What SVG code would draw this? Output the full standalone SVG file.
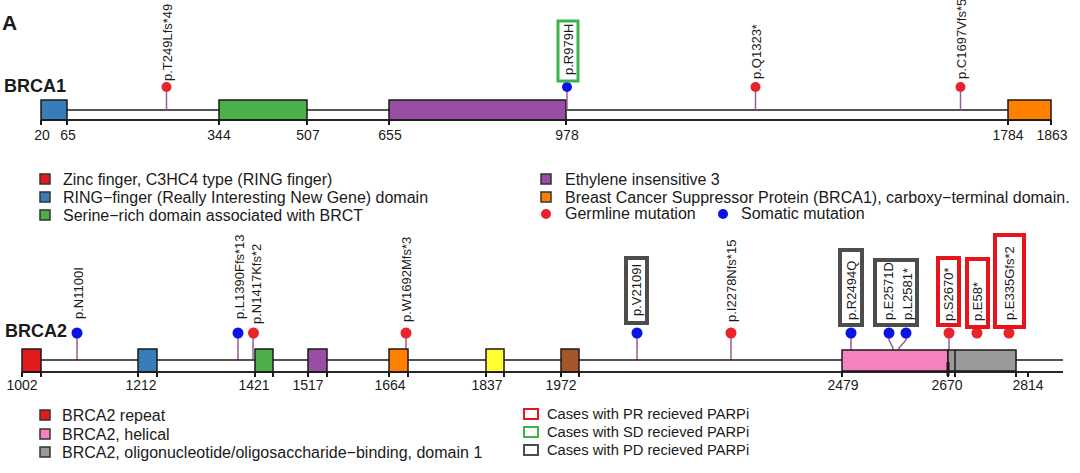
<svg xmlns="http://www.w3.org/2000/svg" width="1080" height="473" viewBox="0 0 1080 473">
<style>
text{font-family:"Liberation Sans",Arial,sans-serif;fill:#1a1a1a}
.title{font-weight:bold;font-size:18px}
.panel{font-weight:bold;font-size:21px}
.tick{font-size:14px;text-anchor:middle}
.mut{font-size:13px}
.leg{font-size:16px}
.leg2{font-size:14.7px}
.bb{stroke:#1a1a1a;stroke-width:1.5;fill:none}
.dom{stroke:#1a1a1a;stroke-width:1.5}
.tk{stroke:#1a1a1a;stroke-width:2}
.stem{stroke:#9b5c9b;stroke-width:1.5;fill:none}
.g{fill:#ea2229}
.s{fill:#0a14e6}
.pr{fill:none;stroke:#e8141c;stroke-width:4}
.sd{fill:none;stroke:#3cb44b;stroke-width:3}
.pd{fill:none;stroke:#4d4d4d;stroke-width:4}
.ls{stroke:#333;stroke-width:1.5}
</style>
<rect width="1080" height="473" fill="#fff"/>
<text class="panel" x="2" y="30">A</text>

<!-- BRCA1 -->
<g id="brca1">
<text class="title" x="4" y="92">BRCA1</text>
<line class="bb" x1="41" y1="110" x2="1051" y2="110"/>
<line class="bb" x1="41" y1="120" x2="1051" y2="120"/>
<g id="b1-domains">
<rect class="dom" x="41" y="100" width="26" height="20" fill="#377eb8"/>
<rect class="dom" x="219" y="100" width="88" height="20" fill="#4daf4a"/>
<rect class="dom" x="389" y="100" width="177" height="20" fill="#984ea3"/>
<rect class="dom" x="1008" y="100" width="43" height="20" fill="#ff7f00"/>
<line class="bb" x1="41" y1="120" x2="1051" y2="120" stroke-width="2.5"/>
</g>
<g id="b1-ticks">
<path class="tk" d="M41,120v5M67,120v5M219,120v5M307,120v5M389,120v5M566,120v5M1008,120v5M1051,120v5"/>
<text class="tick" x="42" y="140">20</text>
<text class="tick" x="68" y="140">65</text>
<text class="tick" x="219" y="140">344</text>
<text class="tick" x="308" y="140">507</text>
<text class="tick" x="390" y="140">655</text>
<text class="tick" x="567" y="140">978</text>
<text class="tick" x="1008" y="140">1784</text>
<text class="tick" x="1052" y="140">1863</text>
</g>
</g>

<g id="connectors">
<path class="stem" d="M166.5,87V110M567,87V110M755.5,87V110M960.5,87V110"/>
<path class="stem" d="M77,333V360M238,333V360M253,333V359M406,333V359M637,333V360M731,333V360M851,333V360M889,333V340L893,348V360M906,333V340L899,348V360M949,333V360"/>
</g>

<g id="b1-mutations">
<circle class="g" cx="166.5" cy="87" r="5"/>
<text class="mut" transform="translate(172,81) rotate(-90)">p.T249Lfs*49</text>
<circle class="s" cx="567" cy="87" r="5"/>
<rect class="sd" x="558" y="21" width="20" height="60"/>
<text class="mut" transform="translate(572.5,75) rotate(-90)">p.R979H</text>
<circle class="g" cx="755.5" cy="87" r="5"/>
<text class="mut" transform="translate(761,79) rotate(-90)">p.Q1323*</text>
<circle class="g" cx="960.5" cy="87" r="5"/>
<text class="mut" transform="translate(966,79) rotate(-90)">p.C1697Vfs*5</text>
</g>

<g id="b1-legend">
<rect class="ls" x="40" y="174" width="10" height="10" fill="#e41a1c"/>
<text class="leg" x="63" y="185">Zinc finger, C3HC4 type (RING finger)</text>
<rect class="ls" x="40" y="192" width="10" height="10" fill="#377eb8"/>
<text class="leg" x="63" y="203">RING−finger (Really Interesting New Gene) domain</text>
<rect class="ls" x="40" y="210" width="10" height="10" fill="#4daf4a"/>
<text class="leg" x="63" y="221">Serine−rich domain associated with BRCT</text>
<rect class="ls" x="541" y="174" width="10" height="10" fill="#984ea3"/>
<text class="leg" x="565" y="185">Ethylene insensitive 3</text>
<rect class="ls" x="541" y="192" width="10" height="10" fill="#ff7f00"/>
<text class="leg" x="565" y="203">Breast Cancer Suppressor Protein (BRCA1), carboxy−terminal domain.</text>
<circle class="g" cx="546" cy="214" r="5"/>
<text class="leg" x="565" y="219">Germline mutation</text>
<circle class="s" cx="723" cy="214" r="5"/>
<text class="leg" x="741" y="219">Somatic mutation</text>
</g>

<!-- BRCA2 -->
<g id="brca2">
<text class="title" x="5" y="337">BRCA2</text>
<line class="bb" x1="22" y1="360" x2="1063" y2="360"/>
<line class="bb" x1="22" y1="372" x2="1063" y2="372"/>
<g id="b2-domains">
<rect class="dom" x="22" y="349" width="19" height="23" fill="#e41a1c"/>
<rect class="dom" x="138" y="349" width="19" height="23" fill="#377eb8"/>
<rect class="dom" x="255" y="349" width="18" height="23" fill="#4daf4a"/>
<rect class="dom" x="308" y="349" width="19" height="23" fill="#984ea3"/>
<rect class="dom" x="389" y="349" width="19" height="23" fill="#ff7f00"/>
<rect class="dom" x="486" y="349" width="18" height="23" fill="#ffff33"/>
<rect class="dom" x="561" y="349" width="18" height="23" fill="#a65628"/>
<rect class="dom" x="842" y="350" width="106" height="21" fill="#f781bf"/>
<rect class="dom" x="948" y="350" width="68" height="21" fill="#999999"/>
<line class="dom" x1="955" y1="350" x2="955" y2="372"/>
<line x1="948" y1="362" x2="948" y2="376" stroke="#1a1a1a" stroke-width="3"/>
<line class="bb" x1="22" y1="372" x2="1063" y2="372" stroke-width="2.5"/>
</g>
<g id="b2-ticks">
<path class="tk" d="M22,372v5M41,372v5M138,372v5M157,372v5M255,372v5M273,372v5M308,372v5M327,372v5M389,372v5M408,372v5M486,372v5M504,372v5M561,372v5M579,372v5M842,372v5M948,372v5M955,372v5M1016,372v5M1028,372v5"/>
<text class="tick" x="22" y="390">1002</text>
<text class="tick" x="141" y="390">1212</text>
<text class="tick" x="254" y="390">1421</text>
<text class="tick" x="308" y="390">1517</text>
<text class="tick" x="390" y="390">1664</text>
<text class="tick" x="487" y="390">1837</text>
<text class="tick" x="561" y="390">1972</text>
<text class="tick" x="843" y="390">2479</text>
<text class="tick" x="947" y="390">2670</text>
<text class="tick" x="1028" y="390">2814</text>
</g>
</g>

<g id="b2-mutations">
<circle class="s" cx="77" cy="333" r="5.5"/>
<text class="mut" transform="translate(83,319) rotate(-90)">p.N1100I</text>
<circle class="s" cx="238" cy="333" r="5.5"/>
<text class="mut" transform="translate(244,319) rotate(-90)">p.L1390Ffs*13</text>
<circle class="g" cx="253.5" cy="333" r="5.5"/>
<text class="mut" transform="translate(261,324) rotate(-90)">p.N1417Kfs*2</text>
<circle class="g" cx="406" cy="333" r="5.5"/>
<text class="mut" transform="translate(411,322) rotate(-90)">p.W1692Mfs*3</text>
<circle class="s" cx="637" cy="333" r="5.5"/>
<rect class="pd" x="626" y="258" width="21" height="65"/>
<text class="mut" transform="translate(641,316) rotate(-90)">p.V2109I</text>
<circle class="g" cx="731" cy="333" r="5.5"/>
<text class="mut" transform="translate(736,322) rotate(-90)">p.I2278Nfs*15</text>
<circle class="s" cx="851" cy="333" r="5.5"/>
<rect class="pd" x="840" y="250" width="22" height="75"/>
<text class="mut" transform="translate(855.5,320) rotate(-90)">p.R2494Q</text>
<circle class="s" cx="889" cy="333" r="5.5"/>
<circle class="s" cx="906" cy="333" r="5.5"/>
<rect class="pd" x="875" y="260" width="42" height="65"/>
<text class="mut" transform="translate(893,320) rotate(-90)">p.E2571D</text>
<text class="mut" transform="translate(911.5,320) rotate(-90)">p.L2581*</text>
<circle class="g" cx="949" cy="333" r="5.5"/>
<rect class="pr" x="938" y="258" width="21" height="67"/>
<text class="mut" transform="translate(953,321) rotate(-90)">p.S2670*</text>
<circle class="g" cx="977" cy="333" r="5.5"/>
<rect class="pr" x="967" y="259" width="21" height="68"/>
<text class="mut" transform="translate(982,321) rotate(-90)">p.E58*</text>
<circle class="g" cx="1009" cy="333" r="5.5"/>
<rect class="pr" x="995" y="235" width="29" height="92"/>
<text class="mut" transform="translate(1014,320) rotate(-90)">p.E335Gfs*2</text>
</g>

<g id="b2-legend">
<rect class="ls" x="40" y="410" width="10" height="10" fill="#e41a1c"/>
<text class="leg" x="62" y="421">BRCA2 repeat</text>
<rect class="ls" x="40" y="429" width="10" height="10" fill="#f781bf"/>
<text class="leg" x="62" y="440">BRCA2, helical</text>
<rect class="ls" x="40" y="447" width="10" height="10" fill="#999999"/>
<text class="leg" x="62" y="458">BRCA2, oligonucleotide/oligosaccharide−binding, domain 1</text>
<rect x="524" y="409" width="14" height="10" fill="none" stroke="#e8141c" stroke-width="2"/>
<text class="leg2" x="547" y="419">Cases with PR recieved PARPi</text>
<rect x="524" y="427" width="14" height="10" fill="none" stroke="#3cb44b" stroke-width="2"/>
<text class="leg2" x="547" y="437">Cases with SD recieved PARPi</text>
<rect x="524" y="445" width="14" height="10" fill="none" stroke="#4d4d4d" stroke-width="2"/>
<text class="leg2" x="547" y="455">Cases with PD recieved PARPi</text>
</g>
</svg>
